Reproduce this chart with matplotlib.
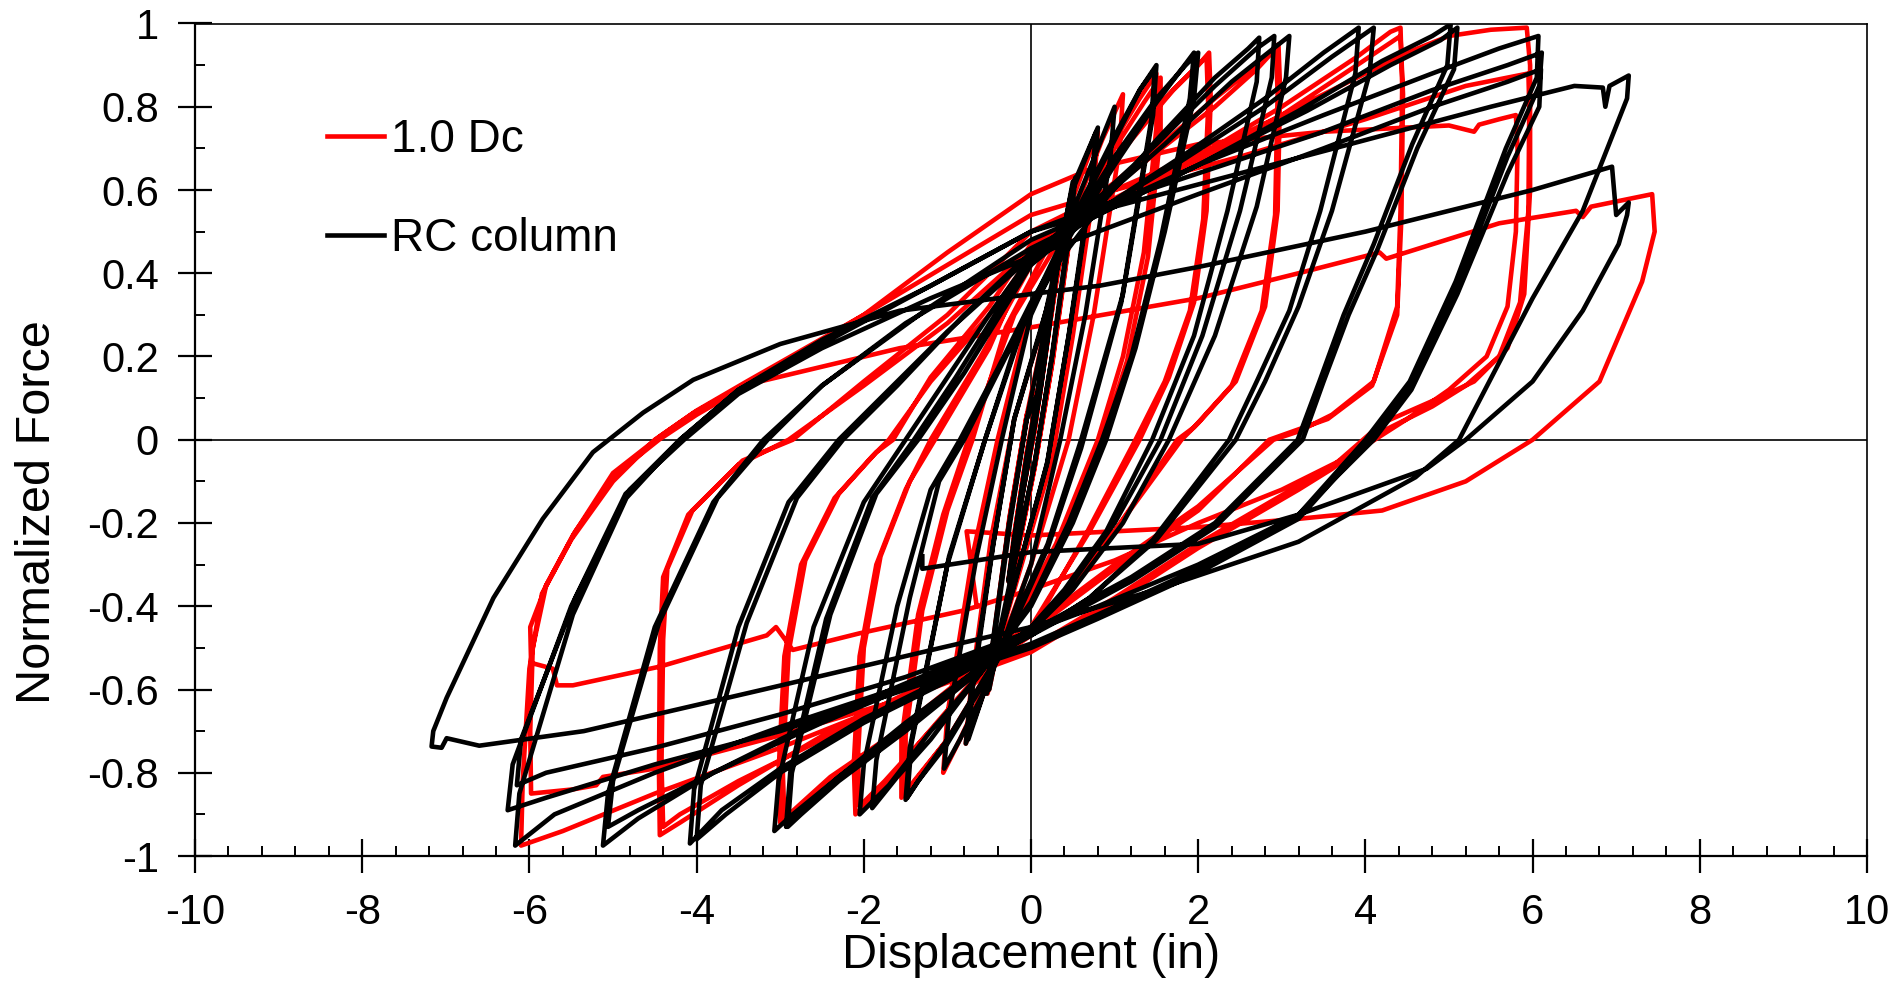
import matplotlib
matplotlib.use("Agg")
import matplotlib.pyplot as plt
from matplotlib.ticker import MultipleLocator, FuncFormatter

plt.rcParams['font.family'] = ['Liberation Sans', 'DejaVu Sans']
plt.rcParams['axes.unicode_minus'] = False

# 1.0 Dc specimen: (displacement in, normalized force)
dc_small = [
    (0, 0), (0.12, 0.17), (0.25, 0.35), (0.2, 0.24), (0.05, 0.03), (-0.1, -0.13), (-0.25, -0.33), (-0.2, -0.23), (-0.05, -0.03),
    (0.1, 0.14), (0.26, 0.36), (0.2, 0.25), (0.04, 0.02), (-0.12, -0.15), (-0.27, -0.34), (-0.21, -0.24), (-0.04, -0.02),
    (0.1, 0.1), (0.3, 0.38), (0.5, 0.6), (0.45, 0.47), (0.25, 0.18), (0.05, -0.06), (-0.25, -0.36), (-0.5, -0.6), (-0.44, -0.47), (-0.25, -0.18), (-0.05, 0.06),
    (0.12, 0.14), (0.32, 0.4), (0.52, 0.61), (0.46, 0.48), (0.26, 0.19), (0.04, -0.07), (-0.26, -0.37), (-0.52, -0.61), (-0.45, -0.48), (-0.26, -0.19), (-0.06, 0.05),
    (0.2, 0.3), (0.5, 0.58), (0.8, 0.74), (0.75, 0.6), (0.5, 0.25), (0.25, -0.05), (-0.2, -0.36), (-0.55, -0.6), (-0.78, -0.73), (-0.72, -0.6), (-0.48, -0.24), (-0.2, 0.05),
    (0.1, 0.25), (0.5, 0.54), (0.85, 0.72), (1.1, 0.83), (1.06, 0.7), (0.75, 0.3), (0.45, 0.0), (0.0, -0.3), (-0.5, -0.57), (-0.85, -0.72), (-1.05, -0.8), (-1.0, -0.66), (-0.7, -0.28), (-0.4, 0.0),
]
dc_1p5 = [
    (0, 0.32), (0.5, 0.52), (1.0, 0.72), (1.3, 0.82), (1.5, 0.88), (1.5, 0.75), (1.35, 0.45), (1.1, 0.2), (0.8, 0.0), (0.3, -0.25), (-0.4, -0.52), (-1.0, -0.72), (-1.4, -0.82), (-1.55, -0.86), (-1.55, -0.72), (-1.35, -0.42), (-1.05, -0.18), (-0.75, 0.0),
    (-0.2, 0.3), (0.4, 0.5), (1.0, 0.7), (1.35, 0.81), (1.55, 0.87), (1.55, 0.74), (1.4, 0.44), (1.15, 0.19), (0.85, 0.0), (0.3, -0.26), (-0.4, -0.53), (-1.0, -0.72), (-1.35, -0.81), (-1.5, -0.85), (-1.5, -0.71), (-1.3, -0.41), (-1.0, -0.17), (-0.7, 0.0),
]
dc_2 = [
    (-0.3, 0.27), (0.3, 0.5), (1.0, 0.68), (1.6, 0.82), (2.0, 0.9), (2.13, 0.93), (2.15, 0.82), (2.1, 0.55), (1.95, 0.33), (1.65, 0.15), (1.3, 0.0), (0.7, -0.22), (0, -0.45), (-0.7, -0.58), (-1.3, -0.72), (-1.8, -0.84), (-2.1, -0.9), (-2.12, -0.78), (-2.05, -0.52), (-1.85, -0.3), (-1.5, -0.12), (-1.2, 0.0),
    (-0.6, 0.2), (0, 0.42), (0.6, 0.57), (1.2, 0.72), (1.7, 0.84), (2.1, 0.92), (2.12, 0.8), (2.06, 0.53), (1.9, 0.31), (1.6, 0.14), (1.25, 0.0), (0.65, -0.23), (0, -0.46), (-0.7, -0.59), (-1.3, -0.72), (-1.75, -0.82), (-2.05, -0.88), (-2.07, -0.76), (-2.0, -0.5), (-1.8, -0.28), (-1.45, -0.1), (-1.15, 0.0),
]
dc_3 = [
    (-0.5, 0.22), (0, 0.45), (0.7, 0.57), (1.5, 0.7), (2.2, 0.82), (2.7, 0.9), (2.96, 0.95), (2.98, 0.84), (2.95, 0.55), (2.8, 0.32), (2.45, 0.14), (2.0, 0.04), (1.8, 0.0), (1.0, -0.22), (0, -0.46), (-0.8, -0.57), (-1.6, -0.7), (-2.4, -0.82), (-3.0, -0.92), (-3.02, -0.8), (-2.95, -0.52), (-2.75, -0.3), (-2.35, -0.14), (-1.9, -0.04), (-1.7, 0.0),
    (-1.2, 0.14), (-0.5, 0.3), (0, 0.44), (0.7, 0.56), (1.5, 0.69), (2.2, 0.8), (2.7, 0.89), (2.93, 0.94), (2.95, 0.83), (2.92, 0.54), (2.76, 0.31), (2.4, 0.13), (1.95, 0.03), (1.75, 0.0), (1.0, -0.22), (0, -0.47), (-0.8, -0.58), (-1.6, -0.7), (-2.4, -0.81), (-2.95, -0.91), (-2.97, -0.79), (-2.9, -0.51), (-2.7, -0.29), (-2.3, -0.13), (-1.85, -0.03), (-1.65, 0.0),
]
dc_4p4 = [
    (-1.2, 0.15), (-0.5, 0.32), (0, 0.47), (0.8, 0.56), (2.0, 0.68), (3.0, 0.8), (3.9, 0.92), (4.3, 0.98), (4.42, 0.99), (4.44, 0.85), (4.42, 0.55), (4.38, 0.32), (4.1, 0.14), (3.6, 0.06), (3.2, 0.02), (2.9, 0.0), (2.0, -0.16), (1.0, -0.3), (0, -0.45), (-1.2, -0.58), (-2.4, -0.7), (-3.5, -0.83), (-4.2, -0.92), (-4.44, -0.95), (-4.45, -0.8), (-4.44, -0.5), (-4.4, -0.33), (-4.1, -0.18), (-3.5, -0.06), (-2.9, 0.0),
    (-2.0, 0.13), (-1.0, 0.28), (0, 0.46), (0.8, 0.55), (2.0, 0.67), (3.0, 0.78), (3.9, 0.9), (4.42, 0.97), (4.45, 0.83), (4.43, 0.53), (4.38, 0.3), (4.08, 0.13), (3.55, 0.05), (2.85, 0.0), (2.0, -0.17), (1.0, -0.31), (0, -0.46), (-1.2, -0.59), (-2.4, -0.71), (-3.5, -0.82), (-4.2, -0.9), (-4.4, -0.93), (-4.42, -0.78), (-4.4, -0.48), (-4.35, -0.31), (-4.05, -0.17), (-3.45, -0.05), (-2.85, 0.0),
]
dc_6 = [
    (-2.0, 0.14), (-1.0, 0.3), (0, 0.5), (1.0, 0.6), (2.5, 0.73), (3.5, 0.83), (4.5, 0.93), (5.0, 0.97), (5.5, 0.985), (5.93, 0.99), (5.97, 0.9), (5.97, 0.6), (5.9, 0.35), (5.7, 0.22), (5.3, 0.14), (4.88, 0.1), (4.2, 0.04), (3.6, -0.065), (3.2, -0.11), (2.0, -0.25), (1.0, -0.38), (0, -0.5), (-1.5, -0.62), (-3.0, -0.74), (-4.5, -0.85), (-5.6, -0.94), (-6.1, -0.975), (-6.08, -0.82), (-6.0, -0.55), (-5.85, -0.37), (-5.5, -0.24), (-5.0, -0.1), (-4.5, 0.0),
    (-4.0, 0.07), (-3.4, 0.14), (-2.0, 0.3), (-1.0, 0.42), (0, 0.54), (1.0, 0.6), (2.5, 0.68), (4.0, 0.77), (5.2, 0.85), (5.95, 0.88), (5.96, 0.8), (5.95, 0.55), (5.85, 0.33), (5.6, 0.2), (5.2, 0.13), (4.8, 0.08), (4.2, 0.02), (3.6, -0.07), (3.2, -0.12), (2.0, -0.26), (1.0, -0.39), (0, -0.51), (-1.5, -0.62), (-3.0, -0.71), (-4.5, -0.79), (-5.12, -0.81), (-5.2, -0.83), (-5.48, -0.84), (-5.98, -0.85), (-5.99, -0.7), (-5.96, -0.5), (-5.8, -0.35), (-5.45, -0.22), (-4.95, -0.08), (-4.45, 0.0),
    (-4.0, 0.06), (-3.4, 0.13), (-2.0, 0.3), (-1.0, 0.45), (0, 0.59), (0.71, 0.65), (2.0, 0.71), (3.5, 0.74), (5.0, 0.755), (5.3, 0.74), (5.36, 0.757), (5.6, 0.77), (5.8, 0.78), (5.82, 0.7), (5.8, 0.5), (5.7, 0.32), (5.45, 0.2), (5.0, 0.12), (4.5, 0.05), (3.8, -0.04), (3.0, -0.12), (2.0, -0.2), (1.0, -0.29), (0, -0.36), (-0.8, -0.41), (-2.05, -0.465), (-2.85, -0.505), (-3.05, -0.45), (-3.16, -0.47), (-4.44, -0.545), (-5.48, -0.59), (-5.67, -0.59), (-5.72, -0.55), (-5.98, -0.536),
]
dc_7p4 = [
    (-5.99, -0.45), (-5.8, -0.35), (-5.48, -0.23), (-5.0, -0.08), (-4.44, 0.008), (-4.04, 0.064), (-3.45, 0.13), (-1.57, 0.22), (0, 0.27), (2.0, 0.34), (3.2, 0.4), (4.17, 0.45), (4.25, 0.435), (5.6, 0.52), (6.52, 0.55), (6.6, 0.535), (6.7, 0.56), (7.43, 0.59), (7.46, 0.5), (7.31, 0.38), (6.8, 0.14), (6.0, 0.0), (5.2, -0.1), (4.2, -0.17), (3.2, -0.19), (2.0, -0.21), (0, -0.23), (-0.77, -0.22), (-0.65, -0.4),
]

# RC column (reference specimen)
rc_small = [
    (0, 0), (0.12, 0.17), (0.25, 0.36), (0.2, 0.25), (0.05, 0.04), (-0.1, -0.13), (-0.25, -0.33), (-0.2, -0.24), (-0.05, -0.04),
    (0.11, 0.15), (0.27, 0.37), (0.21, 0.26), (0.04, 0.03), (-0.12, -0.15), (-0.27, -0.34), (-0.21, -0.25), (-0.04, -0.03),
    (0.1, 0.1), (0.3, 0.4), (0.5, 0.62), (0.45, 0.5), (0.25, 0.2), (0.05, -0.05), (-0.25, -0.35), (-0.5, -0.6), (-0.44, -0.48), (-0.25, -0.2), (-0.05, 0.05),
    (0.12, 0.13), (0.32, 0.42), (0.53, 0.63), (0.47, 0.51), (0.26, 0.21), (0.04, -0.06), (-0.27, -0.36), (-0.53, -0.61), (-0.46, -0.49), (-0.27, -0.21), (-0.06, 0.04),
    (0.2, 0.3), (0.5, 0.6), (0.78, 0.74), (0.72, 0.62), (0.45, 0.25), (0.2, -0.05), (-0.2, -0.35), (-0.55, -0.6), (-0.75, -0.72), (-0.7, -0.6), (-0.45, -0.25), (-0.2, 0.05),
    (0.18, 0.31), (0.5, 0.61), (0.8, 0.75), (0.74, 0.63), (0.46, 0.26), (0.19, -0.06), (-0.22, -0.36), (-0.57, -0.61), (-0.78, -0.73), (-0.72, -0.61), (-0.46, -0.26), (-0.2, 0.05),
    (0.1, 0.25), (0.5, 0.55), (0.8, 0.7), (1.0, 0.8), (0.95, 0.68), (0.65, 0.3), (0.35, 0.0), (0.0, -0.3), (-0.5, -0.58), (-0.85, -0.72), (-1.04, -0.79), (-0.98, -0.66), (-0.65, -0.28), (-0.35, 0.0),
]
rc_1p5 = [
    (0, 0.3), (0.5, 0.52), (1.0, 0.72), (1.3, 0.84), (1.5, 0.9), (1.46, 0.78), (1.1, 0.35), (0.6, 0.0), (0.2, -0.25), (-0.4, -0.52), (-1.0, -0.72), (-1.35, -0.82), (-1.5, -0.865), (-1.45, -0.74), (-1.0, -0.3), (-0.55, 0.0),
    (-0.1, 0.28), (0.5, 0.53), (1.0, 0.73), (1.3, 0.84), (1.48, 0.89), (1.44, 0.77), (1.08, 0.33), (0.6, -0.02), (0.2, -0.26), (-0.4, -0.53), (-1.0, -0.73), (-1.35, -0.82), (-1.48, -0.86), (-1.43, -0.73), (-0.98, -0.28), (-0.55, 0.0),
]
rc_2 = [
    (-0.1, 0.27), (0.5, 0.52), (1.0, 0.68), (1.5, 0.82), (1.85, 0.9), (2.0, 0.93), (1.95, 0.82), (1.6, 0.5), (1.25, 0.22), (0.9, 0.0), (0.5, -0.2), (0, -0.4), (-0.6, -0.56), (-1.2, -0.7), (-1.7, -0.83), (-2.05, -0.9), (-2.0, -0.78), (-1.6, -0.4), (-1.2, -0.12), (-0.85, 0.0),
    (-0.4, 0.17), (0, 0.33), (0.5, 0.5), (1.0, 0.66), (1.5, 0.81), (1.95, 0.93), (1.9, 0.82), (1.55, 0.48), (1.2, 0.2), (0.85, 0.0), (0.45, -0.2), (0, -0.39), (-0.6, -0.56), (-1.2, -0.72), (-1.6, -0.81), (-1.9, -0.885), (-1.85, -0.77), (-1.45, -0.38), (-1.1, -0.1), (-0.8, 0.0),
]
rc_3 = [
    (-0.3, 0.2), (0.3, 0.42), (0.9, 0.58), (1.5, 0.72), (2.2, 0.87), (2.6, 0.94), (2.73, 0.966), (2.7, 0.86), (2.35, 0.55), (1.95, 0.25), (1.45, 0.0), (0.9, -0.22), (0.4, -0.36), (0, -0.45), (-0.7, -0.56), (-1.5, -0.68), (-2.3, -0.81), (-2.85, -0.9), (-3.07, -0.94), (-3.02, -0.82), (-2.6, -0.45), (-2.0, -0.15), (-1.5, 0.0),
    (-1.0, 0.15), (-0.5, 0.3), (0, 0.44), (0.8, 0.58), (1.5, 0.71), (2.2, 0.85), (2.7, 0.94), (2.91, 0.97), (2.88, 0.87), (2.5, 0.55), (2.05, 0.25), (1.55, 0.0), (1.0, -0.2), (0.4, -0.37), (0, -0.45), (-0.7, -0.56), (-1.5, -0.69), (-2.3, -0.81), (-2.75, -0.89), (-2.93, -0.93), (-2.88, -0.8), (-2.45, -0.43), (-1.9, -0.14), (-1.4, 0.0),
    (-0.9, 0.15), (-0.4, 0.31), (0, 0.43), (0.8, 0.57), (1.6, 0.71), (2.4, 0.86), (2.9, 0.94), (3.09, 0.97), (3.05, 0.87), (2.7, 0.56), (2.2, 0.25), (1.65, 0.0), (1.1, -0.2), (0.5, -0.36), (0, -0.46), (-0.7, -0.57), (-1.5, -0.7), (-2.3, -0.82), (-2.75, -0.9), (-2.91, -0.93), (-2.86, -0.8), (-2.4, -0.42), (-1.85, -0.13), (-1.35, 0.0),
]
rc_4 = [
    (-0.8, 0.16), (0, 0.42), (0.8, 0.55), (1.8, 0.68), (2.8, 0.82), (3.5, 0.93), (3.92, 0.99), (3.88, 0.88), (3.46, 0.55), (3.09, 0.31), (2.7, 0.14), (2.37, 0.0), (1.46, -0.24), (0.7, -0.38), (0, -0.47), (-1.0, -0.57), (-2.0, -0.67), (-3.0, -0.79), (-3.7, -0.89), (-4.08, -0.97), (-4.03, -0.84), (-3.5, -0.45), (-2.9, -0.15), (-2.3, 0.0),
    (-1.7, 0.12), (-1.0, 0.26), (0, 0.44), (0.8, 0.55), (1.8, 0.67), (2.8, 0.8), (3.6, 0.92), (4.1, 0.99), (4.05, 0.88), (3.6, 0.55), (3.2, 0.32), (2.8, 0.14), (2.45, 0.0), (1.5, -0.24), (0.7, -0.38), (0, -0.47), (-1.0, -0.58), (-2.0, -0.68), (-3.0, -0.8), (-3.65, -0.9), (-4.0, -0.96), (-3.95, -0.83), (-3.4, -0.44), (-2.8, -0.14), (-2.25, 0.0),
]
rc_5 = [
    (-1.6, 0.13), (-0.8, 0.3), (0, 0.45), (0.8, 0.54), (2.0, 0.66), (3.2, 0.79), (4.2, 0.91), (4.8, 0.97), (5.02, 0.998), (4.98, 0.9), (4.56, 0.71), (4.1, 0.47), (3.74, 0.3), (3.45, 0.14), (3.19, 0.0), (2.2, -0.2), (1.2, -0.33), (0, -0.46), (-1.2, -0.56), (-2.5, -0.67), (-3.8, -0.8), (-4.7, -0.91), (-5.12, -0.975), (-5.06, -0.85), (-4.5, -0.45), (-3.8, -0.15), (-3.2, 0.0),
    (-2.5, 0.13), (-1.5, 0.28), (0, 0.46), (0.8, 0.54), (2.0, 0.66), (3.3, 0.79), (4.3, 0.9), (4.9, 0.96), (5.1, 0.99), (5.06, 0.89), (4.62, 0.7), (4.15, 0.46), (3.8, 0.3), (3.5, 0.14), (3.25, 0.0), (2.2, -0.21), (1.2, -0.34), (0, -0.47), (-1.2, -0.57), (-2.5, -0.68), (-3.8, -0.8), (-4.7, -0.89), (-5.06, -0.93), (-5.0, -0.82), (-4.45, -0.44), (-3.75, -0.14), (-3.15, 0.0),
]
rc_6 = [
    (-2.5, 0.13), (-1.2, 0.32), (0, 0.48), (0.8, 0.55), (2.0, 0.66), (3.5, 0.78), (4.8, 0.88), (5.6, 0.94), (6.07, 0.97), (6.05, 0.87), (5.68, 0.7), (5.08, 0.38), (4.53, 0.14), (4.0, 0.0), (3.2, -0.18), (2.0, -0.31), (0.8, -0.42), (0, -0.49), (-1.5, -0.59), (-3.0, -0.69), (-4.5, -0.8), (-5.7, -0.9), (-6.17, -0.975), (-6.12, -0.85), (-5.48, -0.42), (-4.84, -0.14), (-4.2, 0.0),
    (-3.5, 0.12), (-2.5, 0.24), (-1.2, 0.37), (0, 0.5), (0.8, 0.56), (2.0, 0.64), (3.5, 0.74), (4.8, 0.84), (5.7, 0.9), (6.11, 0.93), (6.08, 0.85), (5.7, 0.68), (5.1, 0.37), (4.55, 0.13), (4.05, 0.0), (3.2, -0.19), (2.0, -0.32), (0.8, -0.43), (0, -0.5), (-1.5, -0.6), (-3.0, -0.7), (-4.5, -0.78), (-5.8, -0.86), (-6.26, -0.89), (-6.2, -0.78), (-5.5, -0.4), (-4.85, -0.13), (-4.15, 0.0),
    (-3.5, 0.11), (-2.5, 0.22), (-1.2, 0.34), (0, 0.44), (0.8, 0.5), (2.0, 0.59), (3.5, 0.7), (4.8, 0.8), (5.7, 0.86), (6.1, 0.89), (6.08, 0.8), (5.7, 0.64), (5.1, 0.35), (4.55, 0.12), (4.1, 0.0), (3.2, -0.18), (2.0, -0.3), (0.8, -0.4), (0, -0.46), (-1.5, -0.57), (-3.0, -0.66), (-4.5, -0.74), (-5.8, -0.8), (-6.15, -0.83), (-6.1, -0.72), (-5.45, -0.38), (-4.8, -0.12), (-4.2, 0.0),
]
rc_7 = [
    (-3.5, 0.12), (-2.5, 0.23), (-1.2, 0.37), (0, 0.5), (1.0, 0.56), (2.5, 0.64), (4.0, 0.72), (5.5, 0.8), (6.5, 0.85), (6.84, 0.846), (6.87, 0.8), (6.92, 0.85), (7.15, 0.875), (7.13, 0.82), (6.6, 0.55), (6.0, 0.34), (5.12, 0.0), (4.6, -0.09), (3.2, -0.245), (1.5, -0.36), (0, -0.45), (-1.08, -0.5), (-3.2, -0.6), (-5.35, -0.7), (-6.6, -0.735), (-6.99, -0.717), (-7.05, -0.74), (-7.17, -0.737), (-7.15, -0.7), (-6.99, -0.62), (-6.43, -0.38), (-5.84, -0.19), (-5.24, -0.03), (-4.64, 0.065), (-4.04, 0.144),
    (-3.0, 0.23), (-1.57, 0.31), (0, 0.35), (0.82, 0.37), (2.0, 0.415), (4.0, 0.5), (6.0, 0.6), (6.95, 0.656), (7.0, 0.54), (7.15, 0.57), (7.13, 0.54), (7.03, 0.47), (6.6, 0.31), (6.0, 0.14), (5.2, 0.0), (4.73, -0.07), (3.2, -0.18), (2.0, -0.25), (0, -0.27), (-1.3, -0.31), (-1.3, -0.28),
]

dc_path = dc_small + dc_1p5 + dc_2 + dc_3 + dc_4p4 + dc_6 + dc_7p4
rc_path = rc_small + rc_1p5 + rc_2 + rc_3 + rc_4 + rc_5 + rc_6 + rc_7
dc_disp = [p[0] for p in dc_path]
dc_force = [p[1] for p in dc_path]
rc_disp = [p[0] for p in rc_path]
rc_force = [p[1] for p in rc_path]

fig = plt.figure(figsize=(19.01, 9.83), dpi=100)
ax = fig.add_axes([195 / 1901, 1 - 856 / 983, 1672 / 1901, 832.5 / 983])

ax.axhline(0, color='black', lw=1.2, zorder=1)
ax.axvline(0, color='black', lw=1.2, zorder=1)

ax.plot(dc_disp, dc_force, color='#ff0000', lw=3.3, label='1.0 Dc', zorder=2,
        solid_joinstyle='round')
ax.plot(rc_disp, rc_force, color='black', lw=3.3, label='RC column', zorder=3,
        solid_joinstyle='round')

ax.set_xlim(-10, 10)
ax.set_ylim(-1, 1)
ax.xaxis.set_major_locator(MultipleLocator(2))
ax.xaxis.set_minor_locator(MultipleLocator(0.4))
ax.yaxis.set_major_locator(MultipleLocator(0.2))
ax.yaxis.set_minor_locator(MultipleLocator(0.1))
ax.xaxis.set_major_formatter(FuncFormatter(lambda v, p: f"{round(v, 1) + 0.0:g}"))
ax.yaxis.set_major_formatter(FuncFormatter(lambda v, p: f"{round(v, 1) + 0.0:g}"))

ax.tick_params(which='major', direction='inout', length=24, width=1.6, labelsize=30)
ax.tick_params(which='minor', direction='in', length=7, width=1.4)
ax.tick_params(axis='x', which='major', pad=15)
ax.tick_params(axis='y', which='major', pad=14)
for side in ['left', 'bottom']:
    ax.spines[side].set_linewidth(1.6)
for side in ['top', 'right']:
    ax.spines[side].set_linewidth(1.2)

ax.set_xlabel('Displacement (in)', fontsize=35, labelpad=0)
ax.set_ylabel('Normalized Force', fontsize=35)
ax.yaxis.set_label_coords(-0.081, 0.413)

ax.legend(loc='upper left', bbox_to_anchor=(0.079, 0.887), frameon=False,
          fontsize=33, handlelength=1.25, handletextpad=0.15, labelspacing=1.2,
          borderpad=0, borderaxespad=0)

fig.savefig('out.png', dpi=100)
